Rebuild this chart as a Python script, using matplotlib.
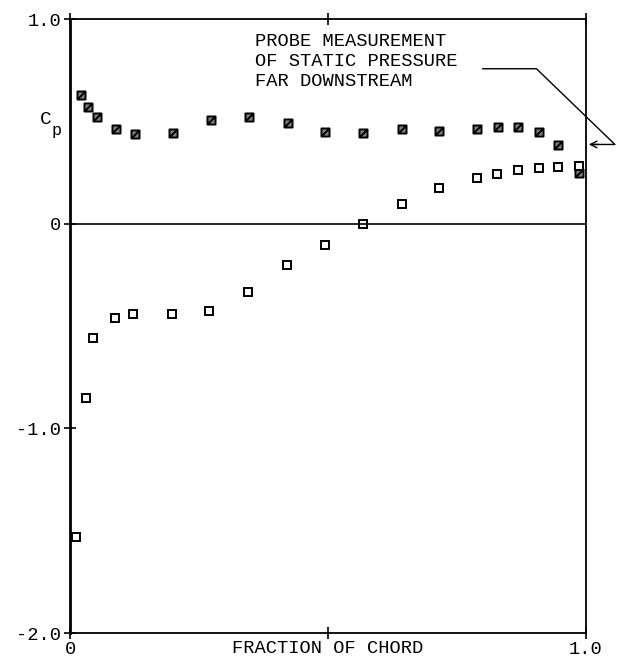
import matplotlib
matplotlib.use("Agg")
import matplotlib.pyplot as plt
from matplotlib.path import Path

# upper surface (slashed squares)
x_upper = [0.021, 0.035, 0.052, 0.089, 0.125, 0.199, 0.273, 0.346, 0.422, 0.494,
           0.568, 0.643, 0.716, 0.788, 0.830, 0.869, 0.908, 0.946, 0.987]
cp_upper = [0.63, 0.568, 0.522, 0.462, 0.44, 0.444, 0.506, 0.519, 0.493, 0.45,
            0.444, 0.463, 0.453, 0.463, 0.47, 0.47, 0.449, 0.385, 0.249]

# lower surface (open squares)
x_lower = [0.012, 0.031, 0.045, 0.087, 0.123, 0.197, 0.270, 0.344, 0.420, 0.494,
           0.568, 0.643, 0.716, 0.788, 0.828, 0.869, 0.908, 0.946, 0.987]
cp_lower = [-1.53, -0.85, -0.56, -0.462, -0.442, -0.439, -0.429, -0.332, -0.203, -0.102,
            0.0, 0.094, 0.175, 0.222, 0.241, 0.262, 0.271, 0.278, 0.282]

yticks = [1.0, 0.0, -1.0, -2.0]
ytick_labels = ["1.0", "0", "-1.0", "-2.0"]
xticks = [0.0, 0.5, 1.0]
xtick_labels = ["0", "", "1.0"]

font = "Liberation Mono"

slash_box = Path([(-1, -1), (1, -1), (1, 1), (-1, 1), (-1, -1), (-1, -1), (1, 1)],
                 [Path.MOVETO, Path.LINETO, Path.LINETO, Path.LINETO, Path.CLOSEPOLY,
                  Path.MOVETO, Path.LINETO])

fig = plt.figure(figsize=(6.2, 6.65), dpi=100)
ax = fig.add_axes([70 / 620, 1 - 633 / 665, 516 / 620, 614 / 665])

ax.plot(x_upper, cp_upper, linestyle="none", marker=slash_box, markersize=5.8,
        markerfacecolor="0.5", markeredgecolor="black", markeredgewidth=1.4, clip_on=False)
ax.plot(x_lower, cp_lower, linestyle="none", marker="s", markersize=6,
        markerfacecolor="white", markeredgecolor="black", markeredgewidth=1.4, clip_on=False)

ax.axhline(0, color="black", lw=1.2)

ax.set_xlim(0, 1)
ax.set_ylim(-2, 1)
ax.set_yticks(yticks)
ax.set_yticklabels(ytick_labels, fontfamily=font, fontsize=13.5)
ax.set_xticks(xticks)
ax.set_xticklabels(xtick_labels, fontfamily=font, fontsize=13.5)
ax.tick_params(direction="inout", length=9, width=1.2, top=True, right=False)
ax.tick_params(axis="y", pad=2)
ax.tick_params(axis="x", pad=1.5)
for side in ["top", "right", "bottom"]:
    ax.spines[side].set_linewidth(1.3)
ax.spines["left"].set_linewidth(2.0)

ax.set_xlabel("FRACTION OF CHORD", fontfamily=font, fontsize=13.5, labelpad=-13)

# C_p label
fig.text(40 / 620, 1 - 119 / 665, "C", fontfamily=font, fontsize=14, ha="left", va="center")
fig.text(52 / 620, 1 - 130 / 665, "p", fontfamily=font, fontsize=12, ha="left", va="center")

# annotation
note = "PROBE MEASUREMENT\nOF STATIC PRESSURE\nFAR DOWNSTREAM"
fig.text(255 / 620, 1 - 33 / 665, note, fontfamily=font, fontsize=13.5, ha="left", va="top",
         linespacing=1.23)
ax.plot([0.80, 0.904, 1.056, 1.012], [0.757, 0.757, 0.387, 0.387], color="black",
        lw=1.0, clip_on=False)
ax.annotate("", xy=(1.0, 0.387), xytext=(1.03, 0.387),
            arrowprops=dict(arrowstyle="->", color="black", lw=1.0, mutation_scale=12),
            annotation_clip=False)

fig.savefig("out.png", dpi=100)
